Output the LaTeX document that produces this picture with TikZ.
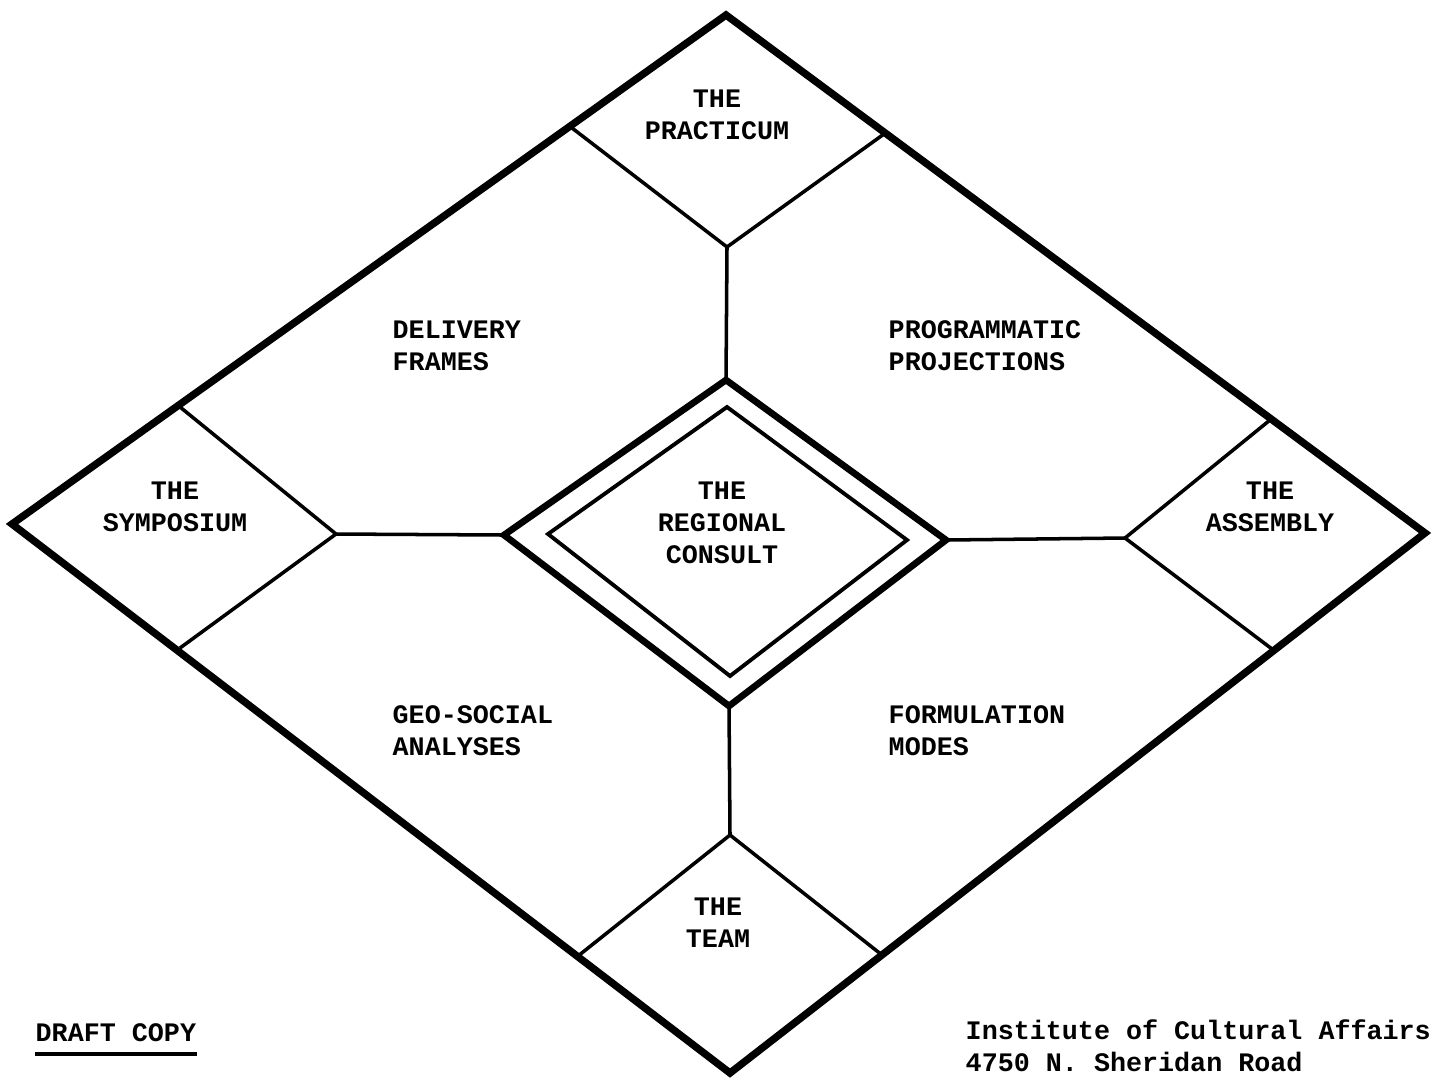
\documentclass[tikz,border=0pt]{standalone}
\usepackage{fontspec}
\setmonofont{Liberation Mono}
\begin{document}
\begin{tikzpicture}
[x=0.01cm,y=-0.01cm,
 heavy/.style={line width=2.1pt,line join=miter},
 light/.style={line width=1pt},
 lbl/.style={font=\ttfamily\bfseries\fontsize{7.6}{9.1}\selectfont,align=center,inner sep=0pt},
 lbll/.style={lbl,align=left,anchor=west}]
\useasboundingbox (0,0) rectangle (1434,1078);

% outer frame
\coordinate (T) at (726,15);
\coordinate (L) at (12,524);
\coordinate (B) at (730,1073);
\coordinate (R) at (1425,533);
\draw[heavy] (T) -- (R) -- (B) -- (L) -- cycle;

% corner pieces
\coordinate (pl) at (572,128);
\coordinate (pb) at (727,247);
\coordinate (pr) at (884,134);
\draw[light] (pl) -- (pb) -- (pr);

\coordinate (st) at (180,407);
\coordinate (sr) at (336,534);
\coordinate (sb) at (180,648);
\draw[light] (st) -- (sr) -- (sb);

\coordinate (at) at (1270,420);
\coordinate (al) at (1125,538);
\coordinate (ab) at (1276,652);
\draw[light] (at) -- (al) -- (ab);

\coordinate (tl) at (578,956);
\coordinate (tt) at (730,835);
\coordinate (tr) at (882,955);
\draw[light] (tl) -- (tt) -- (tr);

% centre
\coordinate (ct) at (726,380);
\coordinate (cl) at (504,535);
\coordinate (cb) at (729,706);
\coordinate (cr) at (946,540);
\draw[line width=1.9pt] (ct) -- (cr) -- (cb) -- (cl) -- cycle;
\coordinate (it) at (727,407);
\coordinate (il) at (548,534);
\coordinate (ib) at (730,676);
\coordinate (ir) at (907,540);
\draw[line width=1.1pt] (it) -- (ir) -- (ib) -- (il) -- cycle;

% spokes
\draw[light] (pb) -- (ct);
\draw[light] (sr) -- (cl);
\draw[light] (cr) -- (al);
\draw[light] (cb) -- (tt);

% labels
\node[lbl] (practicum) at (717,115) {THE\\PRACTICUM};
\node[lbll] (delivery) at (392,346) {DELIVERY\\FRAMES};
\node[lbll] (programmatic) at (888,346) {PROGRAMMATIC\\PROJECTIONS};
\node[lbl] (symposium) at (175,507) {THE\\SYMPOSIUM};
\node[lbl] (consult) at (722,523) {THE\\REGIONAL\\CONSULT};
\node[lbl] (assembly) at (1270,507) {THE\\ASSEMBLY};
\node[lbll] (geosocial) at (392,731) {GEO-SOCIAL\\ANALYSES};
\node[lbll] (formulation) at (888,731) {FORMULATION\\MODES};
\node[lbl] (team) at (718,923) {THE\\TEAM};

\node[lbll] (draft) at (35,1033) {DRAFT COPY};
\draw[line width=1pt] ([yshift=-3.5pt]draft.base west) -- ([yshift=-3.5pt]draft.base east);
\node[lbll] (institute) at (965,1046) {Institute of Cultural Affairs\\4750 N. Sheridan Road};
\end{tikzpicture}
\end{document}
